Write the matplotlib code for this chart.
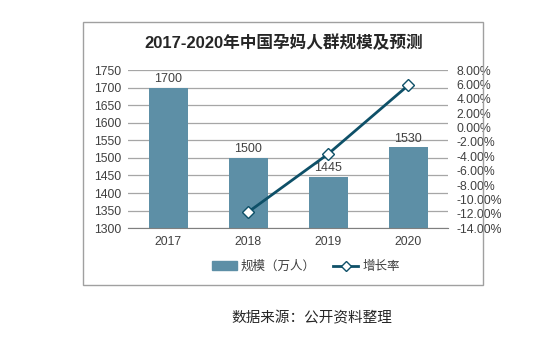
import matplotlib
matplotlib.use("Agg")
import matplotlib.pyplot as plt
from matplotlib.patches import Rectangle
from matplotlib.lines import Line2D
from matplotlib.ticker import FuncFormatter

plt.rcParams['font.family'] = ['Liberation Sans', 'Noto Sans CJK SC', 'DejaVu Sans']

years = ['2017', '2018', '2019', '2020']
scale = [1700, 1500, 1445, 1530]
growth_years = ['2018', '2019', '2020']
growth = [-11.76, -3.67, 5.88]

bar_color = '#5d8fa6'
line_color = '#0e5068'
grid_color = '#a6a6a6'
text_color = '#404040'

fig = plt.figure(figsize=(5.5, 3.37), dpi=100)

# outer frame of the chart
fig.patches.append(Rectangle((0.151, 0.154), 0.727, 0.781, transform=fig.transFigure,
                             fill=False, edgecolor='#a0a0a0', linewidth=1.0))

ax = fig.add_axes([0.233, 0.323, 0.582, 0.469])
x = list(range(len(years)))
ax.bar(x, scale, width=0.49, color=bar_color, zorder=2)
for xi, v in zip(x, scale):
    ax.text(xi, v + 8, str(v), ha='center', va='bottom', fontsize=9, color=text_color, zorder=5)

ax.set_ylim(1300, 1750)
ax.set_yticks(range(1300, 1751, 50))
ax.set_xlim(-0.5, 3.5)
ax.set_xticks(x)
ax.set_xticklabels(years)
ax.yaxis.grid(True, color=grid_color, linewidth=0.9)
ax.set_axisbelow(True)
for s in ['top', 'left', 'right']:
    ax.spines[s].set_visible(False)
ax.spines['bottom'].set_color('#7f7f7f')
ax.tick_params(length=0, labelsize=8.8, colors=text_color)
ax.tick_params(axis='x', pad=6)
ax.tick_params(axis='y', pad=5)

ax2 = ax.twinx()
gx = [years.index(y) for y in growth_years]
ax2.plot(gx, growth, color=line_color, linewidth=2, marker='D', markersize=6,
         markerfacecolor='white', markeredgecolor=line_color, markeredgewidth=1, zorder=4)
ax2.set_ylim(-14, 8)
ax2.set_yticks(range(-14, 9, 2))
ax2.yaxis.set_major_formatter(FuncFormatter(lambda v, p: f"{v:.2f}%"))
for s in ['top', 'left', 'right', 'bottom']:
    ax2.spines[s].set_visible(False)
ax2.tick_params(length=0, labelsize=8.8, colors=text_color, pad=6)

fig.text(0.515, 0.872, '2017-2020年中国孕妈人群规模及预测', ha='center', va='center',
         fontsize=12, fontweight='bold', color='#262626')

handles = [Rectangle((0, 0), 1, 1, color=bar_color),
           Line2D([], [], color=line_color, linewidth=2, marker='D', markersize=5,
                  markerfacecolor='white', markeredgecolor=line_color)]
fig.legend(handles, ['规模（万人）', '增长率'], loc='center', bbox_to_anchor=(0.556, 0.208),
           ncol=2, frameon=False, fontsize=9, handlelength=2.0, columnspacing=1.4,
           handletextpad=0.3, labelcolor=text_color)

fig.text(0.567, 0.055, '数据来源：公开资料整理', ha='center', va='center', fontsize=10.5, color='#262626')

fig.savefig('out.png', dpi=100)
